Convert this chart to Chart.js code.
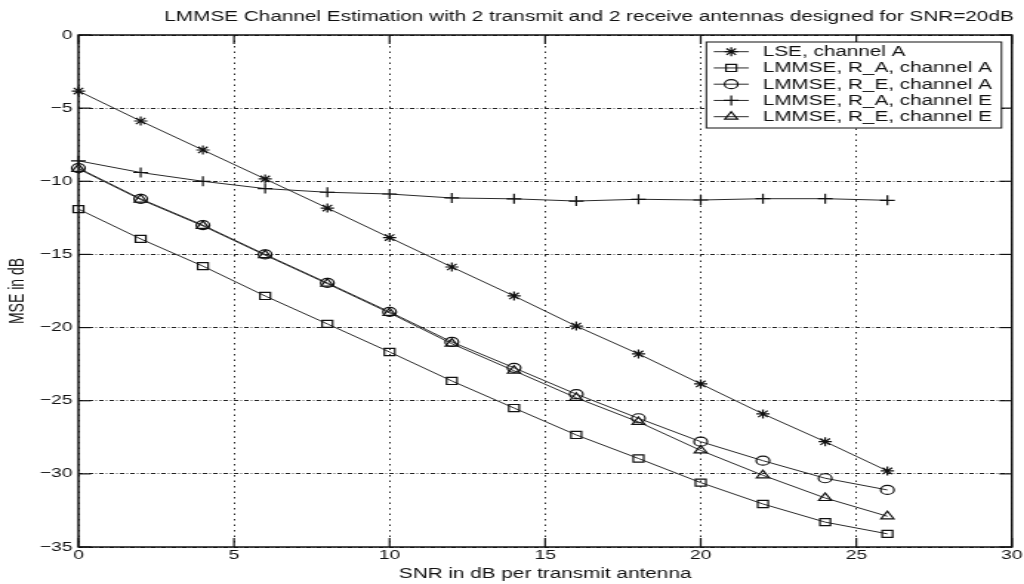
<!DOCTYPE html>
<html>
<head>
<meta charset="utf-8">
<script src="https://cdn.jsdelivr.net/npm/chart.js@4.4.1/dist/chart.umd.min.js"></script>
<style>
  html, body { margin: 0; padding: 0; background: #fff; overflow: hidden; }
  #wrap { width: 692px; height: 584px; transform: scaleX(1.4798); transform-origin: 0 0; }
</style>
</head>
<body>
<div id="wrap"><canvas id="c" width="692" height="584"></canvas></div>
<script>
// ---- data ----
const snr = [0, 2, 4, 6, 8, 10, 12, 14, 16, 18, 20, 22, 24, 26];
const lseChanA   = [-3.83, -5.88, -7.86, -9.84, -11.83, -13.85, -15.86, -17.84, -19.9, -21.8, -23.85, -25.9, -27.8, -29.8];
const lmmseRAChanA = [-11.9, -13.94, -15.8, -17.84, -19.75, -21.67, -23.65, -25.5, -27.34, -28.95, -30.6, -32.06, -33.3, -34.1];
const lmmseREChanA = [-9.1, -11.2, -13.0, -15.0, -16.95, -18.93, -20.98, -22.75, -24.55, -26.2, -27.8, -29.1, -30.3, -31.1];
const lmmseRAChanE = [-8.6, -9.4, -10.0, -10.5, -10.75, -10.87, -11.14, -11.2, -11.35, -11.23, -11.28, -11.19, -11.19, -11.3];
const lmmseREChanE = [-9.15, -11.25, -13.05, -15.05, -17.0, -19.0, -21.1, -22.95, -24.8, -26.45, -28.4, -30.1, -31.65, -32.9];

const seriesLabels = ['LSE, channel A', 'LMMSE, R_A, channel A', 'LMMSE, R_E, channel A', 'LMMSE, R_A, channel E', 'LMMSE, R_E, channel E'];
const xTickValues = [0, 5, 10, 15, 20, 25, 30];
const yTickValues = [0, -5, -10, -15, -20, -25, -30, -35];
const titleText = 'LMMSE Channel Estimation with 2 transmit and 2 receive antennas designed for SNR=20dB';
const xTitle = 'SNR in dB per transmit antenna';
const yTitle = 'MSE in dB';

// ---- styling ----
const FONT = "'Liberation Sans', Arial, Helvetica, sans-serif";
const INK = '#111';
const LINE = '#2a2a2a';
const markers = [
  { pointStyle: 'star', radius: 4.5 },
  { pointStyle: 'rect', radius: 5 },
  { pointStyle: 'circle', radius: 4.5 },
  { pointStyle: 'cross', radius: 5 },
  { pointStyle: 'triangle', radius: 5 }
];
const seriesValues = [lseChanA, lmmseRAChanA, lmmseREChanA, lmmseRAChanE, lmmseREChanE];

const datasets = seriesValues.map((ys, i) => ({
  label: seriesLabels[i],
  data: snr.map((x, j) => ({ x: x, y: ys[j] })),
  borderColor: LINE,
  borderWidth: 1,
  backgroundColor: 'rgba(0,0,0,0)',
  pointStyle: markers[i].pointStyle,
  pointRadius: markers[i].radius,
  pointBorderWidth: 1.2,
  pointBorderColor: INK,
  pointBackgroundColor: 'rgba(0,0,0,0)',
  tension: 0,
  clip: false
}));

function fmt(v) { return v < 0 ? '\u2212' + Math.abs(v) : String(v); }

const framePlugin = {
  id: 'frameAndLegend',
  afterDatasetsDraw(chart) {
    const { ctx, chartArea: a, scales: { x, y } } = chart;
    ctx.save();
    ctx.setLineDash([]);
    ctx.strokeStyle = INK;
    const seg = (x1, y1, x2, y2) => { ctx.beginPath(); ctx.moveTo(x1, y1); ctx.lineTo(x2, y2); ctx.stroke(); };
    // inner tick marks
    ctx.lineWidth = 1.2;
    xTickValues.forEach(v => {
      const px = x.getPixelForValue(v);
      seg(px, a.bottom, px, a.bottom - 9);
      seg(px, a.top, px, a.top + 9);
    });
    yTickValues.forEach(v => {
      const py = y.getPixelForValue(v);
      seg(a.left, py, a.left + 8.5, py);
      seg(a.right, py, a.right - 8.5, py);
    });
    // axes box
    ctx.lineWidth = 1.5;
    ctx.strokeRect(a.left, a.top, a.right - a.left, a.bottom - a.top);

    // legend
    ctx.font = '14px ' + FONT;
    const ds = chart.data.datasets;
    const maxW = Math.max(...ds.map(d => ctx.measureText(d.label).width));
    const padL = 5, sampleLen = 23.6, gap = 9.5, padR = 6.5, rowH = 16.25, h = 86;
    const w = padL + sampleLen + gap + maxW + padR;
    const right = a.right - 7, top = a.top + 7, left = right - w;
    ctx.fillStyle = '#fff';
    ctx.fillRect(left, top, w, h);
    ctx.lineWidth = 1;
    ctx.strokeStyle = INK;
    ctx.strokeRect(left, top, w, h);
    ds.forEach((d, i) => {
      const cy = top + 9.7 + i * rowH;
      const x1 = left + padL, x2 = x1 + sampleLen;
      ctx.strokeStyle = LINE; ctx.lineWidth = 1;
      seg(x1, cy, x2, cy);
      ctx.strokeStyle = INK;
      ctx.fillStyle = 'rgba(0,0,0,0)';
      ctx.lineWidth = 1.2;
      Chart.helpers.drawPoint(ctx, { pointStyle: d.pointStyle, radius: d.pointRadius, rotation: 0, borderWidth: 1.2 }, (x1 + x2) / 2, cy);
      ctx.fillStyle = INK;
      ctx.textAlign = 'left';
      ctx.textBaseline = 'middle';
      ctx.fillText(d.label, x2 + gap, cy + 0.5);
    });
    ctx.restore();
  }
};

new Chart(document.getElementById('c'), {
  type: 'line',
  data: { datasets: datasets },
  options: {
    responsive: false,
    animation: false,
    devicePixelRatio: 1,
    layout: { padding: { left: 0, right: 7, top: 0, bottom: 0 } },
    plugins: {
      legend: { display: false },
      tooltip: { enabled: false },
      title: {
        display: true,
        text: titleText,
        align: 'end',
        color: INK,
        font: { family: FONT, size: 14, weight: 'normal' },
        padding: { top: 9, bottom: 9.2 }
      }
    },
    scales: {
      x: {
        type: 'linear',
        min: 0, max: 30,
        afterBuildTicks: s => { s.ticks = xTickValues.map(v => ({ value: v })); },
        afterFit: s => { s.height = 37; },
        ticks: { color: INK, font: { family: FONT, size: 13 }, padding: 1, callback: v => fmt(v), maxRotation: 0 },
        grid: { color: '#222', lineWidth: 1, drawTicks: false },
        border: { display: false, dash: [1.5, 4] },
        title: { display: true, text: xTitle, color: INK, font: { family: FONT, size: 14 }, padding: { top: 0, bottom: 1 } }
      },
      y: {
        type: 'linear',
        min: -35, max: 0,
        afterBuildTicks: s => { s.ticks = yTickValues.map(v => ({ value: v })); },
        afterFit: s => { s.width = 53; },
        ticks: { color: INK, font: { family: FONT, size: 13 }, padding: 4, callback: v => fmt(v) },
        grid: { color: '#222', lineWidth: 1, drawTicks: false },
        border: { display: false, dash: [3, 1.6, 0.8, 1.6] },
        title: { display: true, text: yTitle, color: INK, font: { family: FONT, size: 14 }, padding: { top: 3.5, bottom: 0 } }
      }
    }
  },
  plugins: [framePlugin]
});
</script>
</body>
</html>
